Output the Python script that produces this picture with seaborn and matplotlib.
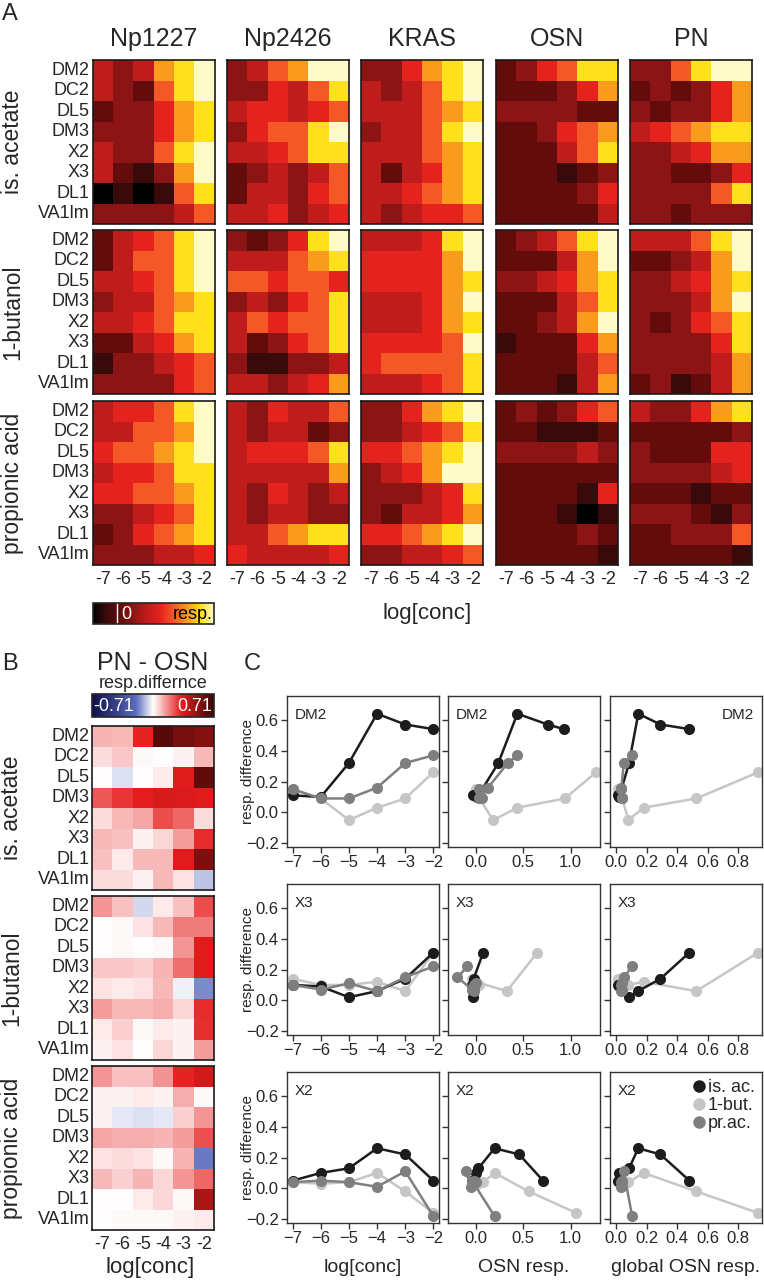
import numpy as np
import pandas as pd
import matplotlib
matplotlib.use('Agg')
import matplotlib.pyplot as plt
from matplotlib.colors import LinearSegmentedColormap, Normalize
from matplotlib.cm import ScalarMappable
from matplotlib.lines import Line2D
import seaborn as sns

sns.set_style("ticks")
plt.rcParams['font.family'] = ['Liberation Sans', 'DejaVu Sans']

LINES = ["Np1227", "Np2426", "KRAS", "OSN", "PN"]
ODORS = ["is. acetate", "1-butanol", "propionic acid"]
GLOMERULI = ["DM2", "DC2", "DL5", "DM3", "X2", "X3", "DL1", "VA1lm"]
CONC = [-7, -6, -5, -4, -3, -2]
CONC_LABELS = ["-7", "-6", "-5", "-4", "-3", "-2"]

# panel A: response level per glomerulus (row) and concentration (digit),
# 0 = strongest inhibition ... 9 = maximal response
RESP_IS_ACETATE = {
    "Np1227": ["434789", "432689", "233578", "333578", "433689", "421379", "010168", "333346"],
    "Np2426": ["346799", "335468", "455456", "356689", "445688", "234346", "244356", "445345"],
    "KRAS":   ["335789", "434689", "444678", "344689", "444678", "424578", "445678", "434556"],
    "OSN":    ["235688", "222357", "333322", "223567", "222468", "222123", "222235", "222224"],
    "PN":     ["336899", "232357", "323357", "456788", "334577", "332235", "333368", "332333"],
}
RESP_BUTANOL = {
    "Np1227": ["245689", "246689", "445689", "344678", "445688", "224578", "133456", "333356"],
    "Np2426": ["323589", "444678", "665665", "343568", "465668", "423568", "311334", "443457"],
    "KRAS":   ["444589", "555579", "555578", "444579", "444578", "555569", "566668", "444568"],
    "OSN":    ["234689", "222479", "334578", "222468", "223479", "122257", "222246", "222147"],
    "PN":     ["444689", "223479", "334578", "333479", "323568", "333358", "333347", "231247"],
}
RESP_PROPIONIC = {
    "Np1227": ["455689", "446679", "566789", "455688", "556678", "334568", "235678", "333445"],
    "Np2426": ["435446", "434423", "455568", "444447", "435434", "434433", "446788", "544445"],
    "KRAS":   ["335789", "334568", "556789", "345799", "333458", "324457", "556789", "334456"],
    "OSN":    ["232356", "221112", "333343", "222222", "222215", "222101", "222232", "222221"],
    "PN":     ["433578", "222223", "322255", "333345", "222122", "333213", "223336", "222221"],
}

# panel B: PN - OSN response difference (rows = GLOMERULI, cols = CONC)
DIFF_IS_ACETATE = [
    [0.11, 0.10, 0.32, 0.64, 0.57, 0.54],
    [0.05, 0.08, 0.01, 0.00, 0.02, 0.10],
    [0.00, -0.04, 0.00, 0.03, 0.34, 0.62],
    [0.24, 0.29, 0.33, 0.36, 0.35, 0.34],
    [0.05, 0.10, 0.13, 0.26, 0.22, 0.05],
    [0.10, 0.09, 0.02, 0.06, 0.14, 0.31],
    [0.09, 0.03, 0.10, 0.10, 0.34, 0.55],
    [0.05, 0.05, 0.02, 0.10, 0.04, -0.08],
]
DIFF_BUTANOL = [
    [0.15, 0.09, -0.05, 0.03, 0.09, 0.26],
    [0.00, 0.01, 0.04, 0.10, 0.19, 0.19],
    [0.00, 0.01, 0.00, 0.01, 0.15, 0.34],
    [0.08, 0.08, 0.07, 0.11, 0.21, 0.34],
    [0.04, 0.03, 0.04, 0.10, -0.02, -0.16],
    [0.14, 0.10, 0.10, 0.12, 0.06, 0.31],
    [0.03, 0.07, 0.01, 0.03, 0.02, 0.30],
    [0.02, 0.04, 0.00, 0.06, 0.02, 0.14],
]
DIFF_PROPIONIC = [
    [0.15, 0.09, 0.09, 0.16, 0.32, 0.37],
    [0.02, 0.02, 0.03, 0.02, 0.12, 0.01],
    [0.02, -0.03, -0.04, -0.03, 0.07, 0.15],
    [0.13, 0.12, 0.12, 0.11, 0.14, 0.25],
    [0.04, 0.05, 0.04, 0.01, 0.11, -0.18],
    [0.10, 0.07, 0.11, 0.06, 0.15, 0.22],
    [0.00, 0.00, 0.03, 0.06, 0.01, 0.45],
    [0.00, 0.01, 0.01, 0.01, 0.02, 0.03],
]

# panel C: OSN response of the glomerulus and global OSN response per concentration
C_GLOMS = ["DM2", "X3", "X2"]
OSN_RESP_IS_AC = {"DM2": [-0.03, 0.02, 0.24, 0.44, 0.76, 0.93],
                  "X3": [-0.04, -0.02, -0.03, -0.03, -0.02, 0.08],
                  "X2": [-0.04, 0.00, 0.03, 0.20, 0.46, 0.71]}
OSN_RESP_BUT = {"DM2": [0.00, 0.04, 0.185, 0.44, 0.94, 1.27],
                "X3": [-0.04, 0.02, 0.04, 0.00, 0.33, 0.65],
                "X2": [-0.02, 0.02, 0.08, 0.20, 0.56, 1.06]}
OSN_RESP_PRA = {"DM2": [0.04, 0.07, 0.04, 0.13, 0.34, 0.44],
                "X3": [-0.02, -0.04, 0.00, -0.02, -0.19, -0.085],
                "X2": [-0.04, -0.02, 0.01, -0.05, -0.10, 0.20]}
GLOBAL_OSN_IS_AC = [0.01, 0.02, 0.085, 0.145, 0.29, 0.48]
GLOBAL_OSN_BUT = [0.015, 0.04, 0.08, 0.18, 0.525, 0.93]
GLOBAL_OSN_PRA = [0.03, 0.04, 0.04, 0.035, 0.05, 0.105]

W, H = 764, 1280
fig = plt.figure(figsize=(W / 100, H / 100), dpi=100)


def add_px_axes(x0, y0, x1, y1):
    return fig.add_axes([x0 / W, 1 - y1 / H, (x1 - x0) / W, (y1 - y0) / H])


def px_text(x, y, s, **kw):
    fig.text(x / W, 1 - y / H, s, **kw)


def frame(ax, lw=1.2, color='#1a1a1a'):
    for sp in ax.spines.values():
        sp.set_visible(True)
        sp.set_linewidth(lw)
        sp.set_color(color)


cmap_a = LinearSegmentedColormap.from_list("resp", [
    "#000000", "#3a0a0a", "#640c0c", "#8c1414", "#c01c1c",
    "#e4221e", "#f45826", "#f99a1e", "#ffe01a", "#fffbc8"])
cmap_b = LinearSegmentedColormap.from_list("diff", [
    (0.0, "#0e0e4c"), (0.36, "#5a6cbc"), (0.5, "#ffffff"),
    (0.732, "#e51c1c"), (1.0, "#380606")])

# ---------------- panel A ----------------
A_LEFT = [92.6, 227.1, 361.1, 496.1, 630.1]
A_W = 122
A_TOP = [60, 230, 401]
A_H = 164
resp_by_odor = [RESP_IS_ACETATE, RESP_BUTANOL, RESP_PROPIONIC]

px_text(2, 14, "A", fontsize=17, va='center', ha='left')
for r, odor in enumerate(ODORS):
    px_text(13, A_TOP[r] + A_H / 2, odor, fontsize=16.5, rotation=90, ha='center', va='center')
    for c, line in enumerate(LINES):
        ax = add_px_axes(A_LEFT[c], A_TOP[r], A_LEFT[c] + A_W, A_TOP[r] + A_H)
        mat = np.array([[int(ch) for ch in row] for row in resp_by_odor[r][line]])
        sns.heatmap(mat, cmap=cmap_a, vmin=0, vmax=9, cbar=False, ax=ax,
                    xticklabels=CONC_LABELS if r == 2 else False,
                    yticklabels=GLOMERULI if c == 0 else False)
        ax.tick_params(length=0, labelsize=13)
        ax.tick_params(axis='y', labelrotation=0, pad=2)
        ax.tick_params(axis='x', labelrotation=0, pad=4)
        frame(ax)
        if r == 0:
            px_text(A_LEFT[c] + A_W / 2, 39, line, fontsize=18, ha='center', va='center')

cax = add_px_axes(92.6, 603, 214.4, 624)
cb = fig.colorbar(ScalarMappable(Normalize(0, 9), cmap_a), cax=cax, orientation='horizontal')
cb.set_ticks([])
cb.outline.set_linewidth(1.2)
cax.axvline(1.8, color='white', lw=1)
cax.text(2.15, 0.45, "0", color='white', fontsize=13, va='center', ha='left')
cax.text(8.85, 0.45, "resp.", color='black', fontsize=13, va='center', ha='right')
px_text(427, 613, "log[conc]", fontsize=16, ha='center', va='center')

# ---------------- panel B ----------------
B_LEFT, B_W = 92, 122
B_TOP = [726, 896, 1066]
B_H = 164
diff_by_odor = [DIFF_IS_ACETATE, DIFF_BUTANOL, DIFF_PROPIONIC]

px_text(2, 664, "B", fontsize=17, va='center', ha='left')
px_text(153, 663, "PN - OSN", fontsize=18, ha='center', va='center')
px_text(153, 683, "resp.differnce", fontsize=13, ha='center', va='center')
cax = add_px_axes(B_LEFT, 694, B_LEFT + B_W, 717)
cb = fig.colorbar(ScalarMappable(Normalize(-0.71, 0.71), cmap_b), cax=cax, orientation='horizontal')
cb.set_ticks([])
cb.outline.set_linewidth(1.2)
cax.text(-0.69, 0.45, "-0.71", color='white', fontsize=13, va='center', ha='left')
cax.text(0.69, 0.45, "0.71", color='white', fontsize=13, va='center', ha='right')

for r, odor in enumerate(ODORS):
    px_text(12, B_TOP[r] + B_H / 2, odor, fontsize=16.5, rotation=90, ha='center', va='center')
    ax = add_px_axes(B_LEFT, B_TOP[r], B_LEFT + B_W, B_TOP[r] + B_H)
    sns.heatmap(np.array(diff_by_odor[r]), cmap=cmap_b, vmin=-0.71, vmax=0.71, cbar=False, ax=ax,
                xticklabels=CONC_LABELS if r == 2 else False, yticklabels=GLOMERULI)
    ax.tick_params(length=0, labelsize=13)
    ax.tick_params(axis='y', labelrotation=0, pad=2)
    ax.tick_params(axis='x', labelrotation=0, pad=4)
    frame(ax)
px_text(150, 1267, "log[conc]", fontsize=16, ha='center', va='center')

# ---------------- panel C ----------------
C_LEFT = [287, 448, 610]
C_W = 152
C_TOP = [696, 884, 1072]
C_H = 151
C_XLIM = [(-7.2, -1.8), (-0.29, 1.31), (-0.04, 0.955)]
C_XTICKS = [CONC, [0.0, 0.5, 1.0], [0.0, 0.2, 0.4, 0.6, 0.8]]
C_XTICKLABELS = [["\u22127", "\u22126", "\u22125", "\u22124", "\u22123", "\u22122"],
                 ["0.0", "0.5", "1.0"], ["0.0", "0.2", "0.4", "0.6", "0.8"]]
C_XLABELS = ["log[conc]", "OSN resp.", "global OSN resp."]
C_YTICKS = [-0.2, 0.0, 0.2, 0.4, 0.6]
C_YTICKLABELS = ["\u22120.2", "0.0", "0.2", "0.4", "0.6"]

series = [
    ("1-but.", "#c6c6c6", DIFF_BUTANOL, OSN_RESP_BUT, GLOBAL_OSN_BUT),
    ("is. ac.", "#1c1c1c", DIFF_IS_ACETATE, OSN_RESP_IS_AC, GLOBAL_OSN_IS_AC),
    ("pr.ac.", "#7f7f7f", DIFF_PROPIONIC, OSN_RESP_PRA, GLOBAL_OSN_PRA),
]

px_text(244, 664, "C", fontsize=17, va='center', ha='left')
for r, glom in enumerate(C_GLOMS):
    gi = GLOMERULI.index(glom)
    for c in range(3):
        ax = add_px_axes(C_LEFT[c], C_TOP[r], C_LEFT[c] + C_W, C_TOP[r] + C_H)
        for name, color, diff, osn, glob in series:
            xs = [CONC, osn[glom], glob][c]
            df = pd.DataFrame({"x": xs, "y": diff[gi]})
            sns.lineplot(data=df, x="x", y="y", ax=ax, color=color, lw=1.8,
                         marker='o', markersize=8, markeredgewidth=0,
                         sort=False, estimator=None, legend=False)
        ax.set_xlim(C_XLIM[c])
        ax.set_ylim(-0.225, 0.755)
        ax.set_xticks(C_XTICKS[c])
        ax.set_xticklabels(C_XTICKLABELS[c])
        ax.set_yticks(C_YTICKS)
        if c == 0:
            ax.set_yticklabels(C_YTICKLABELS)
        else:
            ax.set_yticklabels([])
        ax.set_xlabel("")
        ax.set_ylabel("")
        ax.tick_params(direction='out', length=4, width=1, color='#333333',
                       labelsize=12, pad=2)
        frame(ax, lw=1.0, color='#333333')
        if c == 2 and r == 0:
            ax.text(0.95, 0.875, glom, transform=ax.transAxes, fontsize=11, ha='right', va='center')
        else:
            ax.text(0.05, 0.875, glom, transform=ax.transAxes, fontsize=11, ha='left', va='center')
        if c == 0:
            px_text(248, C_TOP[r] + C_H / 2, "resp. difference", fontsize=11,
                    rotation=90, ha='center', va='center')
        if r == 2:
            px_text(C_LEFT[c] + C_W / 2, 1267, C_XLABELS[c], fontsize=14, ha='center', va='center')
        if r == 2 and c == 2:
            handles = [Line2D([], [], ls='none', marker='o', markersize=9, markeredgewidth=0, color=col)
                       for col in ["#1c1c1c", "#c6c6c6", "#7f7f7f"]]
            ax.legend(handles, ["is. ac.", "1-but.", "pr.ac."], loc='upper right',
                      frameon=False, fontsize=13, handlelength=0.6, handletextpad=0.2,
                      labelspacing=0.05, borderaxespad=0.3, borderpad=0.1)

fig.savefig("out.png", dpi=100)
